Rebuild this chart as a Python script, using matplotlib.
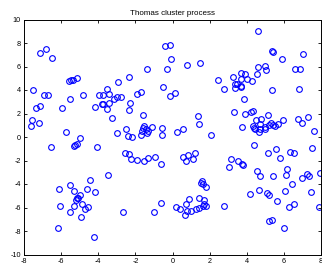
import matplotlib
matplotlib.use('Agg')
import matplotlib.pyplot as plt
import numpy as np

# point locations (x, y)
x_pts = [
    -7.14, -6.81, -6.51, -5.57, -5.46, -5.34, -5.13, -7.50, -6.92, -6.69,
    -5.52, -4.83, -7.35, -7.14, -5.95, -4.17, -3.95, -3.72, -3.40, -3.51,
    -3.81, -3.72, -3.40, -3.54, -3.13, -3.00, -2.77, -2.91, -2.34, -2.28,
    -2.34, -3.27, -7.58, -7.64, -7.17, -5.73, -4.98, -2.97, -2.50, -2.41,
    -0.43, -0.11, -0.06, -1.38, -0.27, 0.79, 1.49, -0.52, -1.92, -1.69,
    -0.13, 0.14, -1.57, 2.43, 2.77, 1.40, 1.44, -2.19, -1.60, -1.51,
    -1.42, -1.30, -1.65, -1.71, -1.38, -1.11, -0.54, -0.59, 0.24, 0.56,
    2.07,
    4.62, 5.37, 5.42, 5.92, 7.03, 4.58, 5.00, 5.05, 6.58, 6.85,
    3.69, 3.88, 4.55, 3.24, 3.69, 4.04, 4.28, 3.38, 3.47, 3.70,
    3.70, 3.38, 5.36, 6.83, 3.87, 3.29, 3.90, 4.24, 4.35, 5.14,
    4.50, 4.75, 3.74, 4.31, 4.41, 4.46, 4.69, 4.73, 4.64, 4.96,
    5.00, 5.18, 5.32, 5.41, 5.50, 5.68, 5.95, 6.76, 6.98, 7.30,
    7.60,
    4.37, 5.12, 5.55, 5.77, 6.35, 6.56, 7.50, 3.15, 3.04, 3.54,
    3.77, 3.81, 4.55, 4.73, 5.41, 6.19, 6.13, 7.23, 7.33, 6.96,
    7.93, 6.46, 4.17, 4.64, 5.09, 5.21, 6.06, 7.48, 5.63, 6.55,
    6.28, 2.79, 7.87, 5.21, 5.38, 5.99,
    -2.57, -2.34, -2.24, -1.89, -1.51, -1.33, -0.95, -0.61, 0.59, 0.74,
    0.86, 1.08, 1.21, 1.60, 1.53, 1.67, 1.80, -0.61, -2.68, -0.97,
    0.18, 0.41, 0.75, 0.88, 0.65, 0.78, 0.99, 1.28, 1.44, 1.44,
    1.69, 1.64, 1.78, 1.72,
    -6.54, -5.32, -5.25, -5.16, -4.06, -3.45, -5.52, -4.46, -6.13, -5.32,
    -4.62, -4.19, -4.98, -5.13, -5.20, -5.07, -4.89, -5.29, -6.07, -4.69,
    -4.55, -5.52, -4.94, -6.18, -4.21,
]
y_pts = [
    7.17, 7.51, 6.72, 4.79, 4.88, 4.88, 5.00, 4.00, 3.57, 3.57,
    3.23, 3.55, 2.47, 2.66, 2.47, 2.58, 3.57, 3.57, 3.63, 4.06,
    2.78, 2.81, 2.87, 2.38, 3.23, 3.38, 3.40, 4.71, 5.11, 2.87,
    2.30, 1.64, 1.45, 0.96, 1.19, 0.40, -0.06, 0.37, 0.66, 0.11,
    7.77, 7.86, 6.61, 5.81, 5.81, 6.10, 6.27, 4.28, 3.66, 3.83,
    3.51, 3.74, 1.85, 4.85, 4.09, 1.79, 1.08, 0.03, 0.74, 0.96,
    0.66, 0.54, 0.54, 0.17, 0.31, 0.88, 0.77, 0.17, 0.40, 0.71,
    0.17,
    9.02, 7.33, 7.27, 6.66, 7.09, 5.93, 6.07, 5.68, 5.81, 5.81,
    5.42, 5.34, 5.39, 5.08, 4.94, 4.96, 4.74, 4.51, 4.54, 4.34,
    4.23, 4.14, 4.00, 4.11, 3.23, 2.15, 1.96, 2.15, 2.24, 1.90,
    1.45, 1.56, 0.83, 0.91, 0.74, 0.66, 1.08, 0.68, 0.43, 0.88,
    0.66, 1.05, 1.17, 1.02, 0.94, 1.11, 1.42, 1.56, 1.17, 1.73,
    0.54,
    -0.71, -1.39, -1.05, -1.76, -1.30, -1.36, -0.91, -1.85, -2.55, -2.04,
    -2.27, -2.36, -2.87, -3.32, -3.29, -2.70, -3.21, -3.17, -3.32, -3.46,
    -3.09, -3.97, -4.88, -4.51, -4.77, -4.91, -4.57, -4.66, -5.42, -5.70,
    -5.98, -5.85, -5.98, -7.17, -7.06, -7.74,
    -1.39, -1.45, -1.90, -1.96, -2.02, -1.79, -1.73, -2.27, -1.68, -2.04,
    -1.53, -1.87, -1.36, -3.72, -3.94, -4.03, -4.23, -5.59, -6.41, -6.36,
    -5.96, -6.15, -5.70, -5.30, -6.66, -6.30, -6.27, -6.15, -6.04, -5.17,
    -5.39, -5.87, -5.87, -5.70,
    -0.88, -0.74, -0.68, -0.62, -0.88, -3.23, -4.06, -3.69, -4.45, -4.62,
    -4.45, -4.68, -4.96, -5.17, -5.39, -5.22, -5.70, -5.87, -5.87, -6.10,
    -5.96, -6.41, -6.78, -7.74, -8.51,
]
x_ticks = [-8, -6, -4, -2, 0, 2, 4, 6, 8]
y_ticks = [-10, -8, -6, -4, -2, 0, 2, 4, 6, 8, 10]
title = 'Thomas cluster process'

plt.rcParams['font.family'] = ['Liberation Sans', 'DejaVu Sans']
plt.rcParams['axes.unicode_minus'] = False

W, H = 322, 265
fig = plt.figure(figsize=(W / 100, H / 100), dpi=100, facecolor='white')
left, right, top, bottom = 24, 321, 19.5, 254.5
ax = fig.add_axes([left / W, (H - bottom) / H, (right - left) / W, (bottom - top) / H])

ax.plot(x_pts, y_pts, linestyle='none', marker='o', markersize=4.1,
        markerfacecolor='none', markeredgecolor='#0000ff', markeredgewidth=0.8)

ax.set_xlim(-8, 8)
ax.set_ylim(-10, 10)
ax.set_xticks(x_ticks)
ax.set_yticks(y_ticks)
ax.tick_params(direction='in', length=2.2, width=0.6, labelsize=5.2, pad=2.2,
               top=True, right=True, colors='black')
for s in ax.spines.values():
    s.set_linewidth(0.7)
ax.set_title(title, fontsize=5.8, pad=3.5)

fig.savefig('out.png', dpi=100, facecolor='white')
